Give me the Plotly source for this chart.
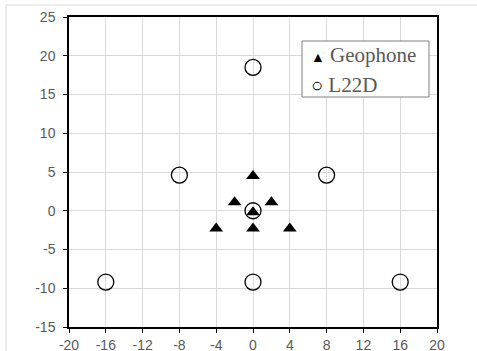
import plotly.graph_objects as go

geo_x = [0, -2, 2, 0, -4, 0, 4]
geo_y = [4.5, 1.1, 1.1, -0.2, -2.3, -2.3, -2.3]
l22_x = [0, -8, 8, 0, -16, 0, 16]
l22_y = [18.5, 4.6, 4.6, 0, -9.2, -9.2, -9.2]
x_ticks = list(range(-20, 21, 4))
y_ticks = list(range(-15, 26, 5))
legend_names = ["Geophone", "L22D"]
legend_glyphs = ["▲", "○"]

W, H = 477, 351
ml, mr, mt, mb = 69, 40, 17, 24
pw, ph = W - ml - mr, H - mt - mb


def px_x(p):
    return (p - ml) / pw


def px_y(p):
    return (H - mb - p) / ph


fig = go.Figure()
fig.add_trace(go.Scatter(x=l22_x, y=l22_y, mode="markers", showlegend=False, name="L22D",
                         marker=dict(symbol="circle-open", size=16, color="black",
                                     line=dict(width=1.3, color="black"))))
fig.add_trace(go.Scatter(x=geo_x, y=geo_y, mode="markers", showlegend=False, name="Geophone",
                         marker=dict(symbol="triangle-up", size=12, color="black")))

axis_common = dict(showline=True, linecolor="black", linewidth=1.5, mirror=True,
                   ticks="outside", ticklen=4, tickcolor="black", tickwidth=1,
                   showgrid=True, gridcolor="#d9d9d9", gridwidth=1, zeroline=False,
                   automargin=False,
                   tickfont=dict(family="Liberation Sans", size=14, color="#595959"))

fig.update_xaxes(range=[-20, 20], tickvals=x_ticks, ticktext=[str(v) for v in x_ticks],
                 **axis_common)
fig.update_yaxes(range=[-15, 25], tickvals=y_ticks, ticktext=[str(v) for v in y_ticks],
                 ticklabelstandoff=5, **axis_common)

# outer chart border
fig.add_shape(type="rect", xref="paper", yref="paper",
              x0=px_x(6), x1=px_x(W + 5), y0=px_y(H + 5), y1=px_y(5),
              line=dict(color="#d9d9d9", width=1), fillcolor="rgba(0,0,0,0)", layer="below")

# legend box
fig.add_shape(type="rect", xref="paper", yref="paper",
              x0=px_x(302), x1=px_x(429), y0=px_y(97), y1=px_y(41),
              line=dict(color="#808080", width=1), fillcolor="white", layer="above")
glyph_sizes = [14, 20]
for i, (name, glyph) in enumerate(zip(legend_names, legend_glyphs)):
    fig.add_annotation(
        xref="paper", yref="paper", x=px_x(309), y=px_y(55 + 30 * i),
        xanchor="left", yanchor="middle", showarrow=False,
        text=f'<span style="color:black;font-size:{glyph_sizes[i]}px">{glyph}</span> {name}',
        font=dict(family="Liberation Serif", size=21, color="#595959"))

fig.update_layout(
    width=W, height=H,
    margin=dict(l=ml, r=mr, t=mt, b=mb),
    paper_bgcolor="white", plot_bgcolor="white",
    showlegend=False,
)

fig.write_html("out.html")
